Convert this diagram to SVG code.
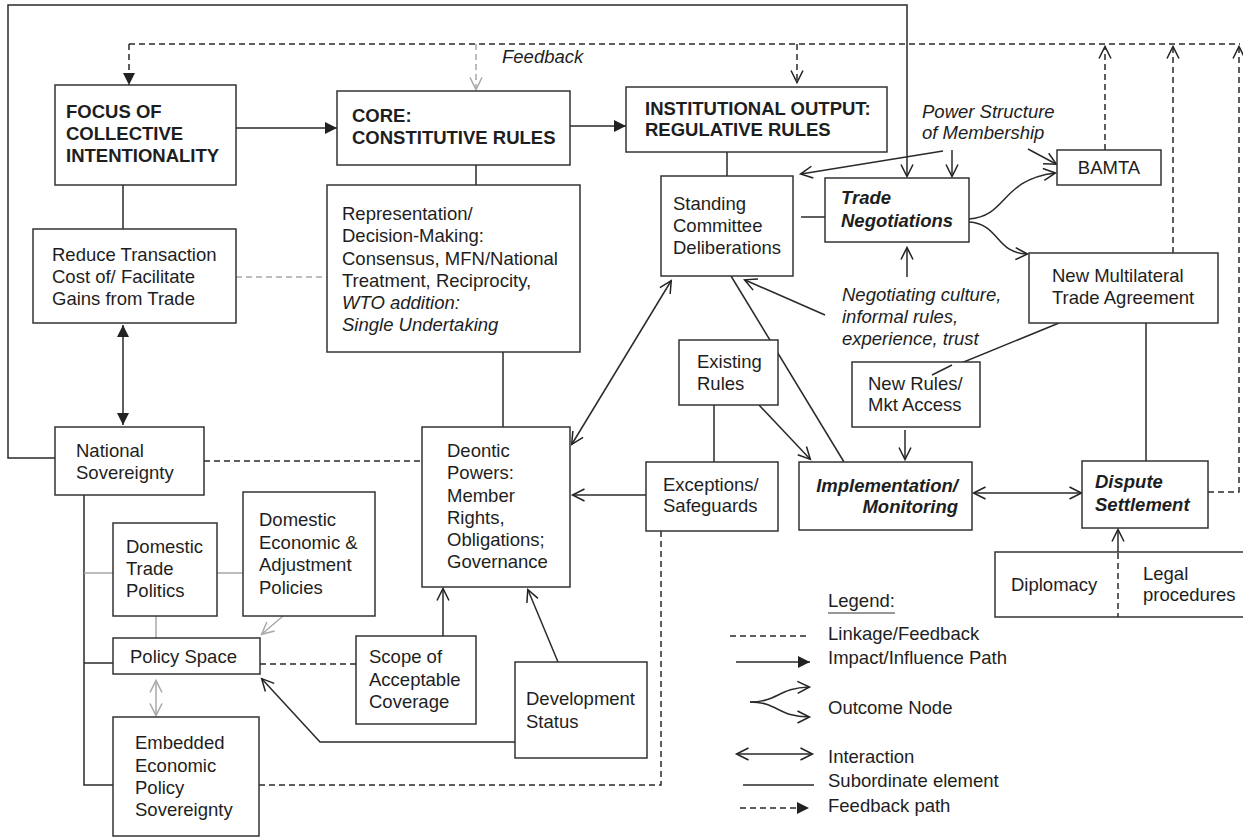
<svg xmlns="http://www.w3.org/2000/svg" width="1243" height="837" viewBox="0 0 1243 837">
  <style>
    .t { font-family: "Liberation Sans", Arial, Helvetica, sans-serif; font-size: 18.5px; fill: #1e1e1e; }
    .b { font-weight: bold; }
    .i { font-style: italic; }
    .box { fill: #fff; stroke: #333; stroke-width: 1.5; }
    .ln { fill: none; stroke: #2a2a2a; stroke-width: 1.5; }
    .gr { fill: none; stroke: #a8a8a8; stroke-width: 1.5; }
    .d { stroke-dasharray: 6 4; }
  </style>
  <defs>
    <marker id="fa" viewBox="0 0 12 12" refX="12" refY="6" markerWidth="12" markerHeight="12" markerUnits="userSpaceOnUse" orient="auto-start-reverse">
      <path d="M0,0 L12,6 L0,12 z" fill="#222"/>
    </marker>
    <marker id="oa" viewBox="0 0 12 12" refX="11.5" refY="6" markerWidth="12" markerHeight="12" markerUnits="userSpaceOnUse" orient="auto-start-reverse" overflow="visible">
      <path d="M0,0 L12,6 L0,12" fill="none" stroke="#222" stroke-width="1.5"/>
    </marker>
    <marker id="og" viewBox="0 0 12 12" refX="11.5" refY="6" markerWidth="12" markerHeight="12" markerUnits="userSpaceOnUse" orient="auto-start-reverse" overflow="visible">
      <path d="M0,0 L12,6 L0,12" fill="none" stroke="#a8a8a8" stroke-width="1.5"/>
    </marker>
  </defs>

  <g id="connectors">
    <!-- outer sovereignty loop into trade negotiations -->
    <polyline class="ln" points="55,458 8,458 8,5 907,5 907,176" marker-end="url(#oa)"/>
    <!-- top feedback bus -->
    <line class="ln d" x1="129" y1="44" x2="1240" y2="44"/>
    <line class="ln d" x1="129" y1="44" x2="129" y2="85" marker-end="url(#fa)"/>
    <line class="gr d" x1="476" y1="44" x2="476" y2="89" marker-end="url(#og)"/>
    <line class="ln d" x1="797" y1="44" x2="797" y2="82" marker-end="url(#oa)"/>
    <line class="ln d" x1="1105" y1="150" x2="1105" y2="47" marker-end="url(#oa)"/>
    <line class="ln d" x1="1173" y1="253" x2="1173" y2="47" marker-end="url(#oa)"/>
    <polyline class="ln d" points="1208,492 1239,492 1239,47" marker-end="url(#oa)"/>

    <!-- main chain -->
    <line class="ln" x1="236" y1="128" x2="337" y2="128" marker-end="url(#fa)"/>
    <line class="ln" x1="570" y1="126" x2="626" y2="126" marker-end="url(#fa)"/>
    <line class="ln" x1="123" y1="185" x2="123" y2="229"/>
    <line class="ln" x1="476" y1="165" x2="476" y2="185"/>
    <line class="ln" x1="727" y1="152" x2="727" y2="176"/>
    <line class="gr d" x1="236" y1="277" x2="327" y2="277"/>
    <line class="ln" x1="123" y1="325" x2="123" y2="425" marker-start="url(#fa)" marker-end="url(#fa)"/>
    <line class="ln" x1="503" y1="352" x2="503" y2="427"/>
    <line class="ln d" x1="204" y1="461" x2="422" y2="461"/>

    <!-- negotiation cluster -->
    <line class="ln" x1="801" y1="217" x2="825" y2="217"/>
    <line class="ln" x1="952" y1="150" x2="952" y2="176" marker-end="url(#oa)"/>
    <line class="ln" x1="943" y1="151" x2="801" y2="174" marker-end="url(#oa)"/>
    <line class="ln" x1="1028" y1="149" x2="1056" y2="164" marker-end="url(#oa)"/>
    <path class="ln" d="M969,219 C1008,216 1000,180 1055,173" marker-end="url(#oa)"/>
    <path class="ln" d="M969,222 C1000,224 995,253 1027,254" marker-end="url(#oa)"/>
    <line class="ln" x1="907" y1="277" x2="907" y2="248" marker-end="url(#oa)"/>
    <line class="ln" x1="825" y1="315" x2="745" y2="280" marker-end="url(#oa)"/>
    <line class="ln" x1="572" y1="444" x2="671" y2="281" marker-start="url(#oa)" marker-end="url(#oa)"/>
    <line class="ln" x1="731" y1="276" x2="844" y2="462"/>
    <line class="ln" x1="1146" y1="323" x2="1146" y2="461"/>
    <line class="ln" x1="1059" y1="323" x2="932" y2="375"/>
    <line class="ln" x1="905" y1="430" x2="905" y2="459" marker-end="url(#oa)"/>
    <line class="ln" x1="714" y1="405" x2="714" y2="462"/>
    <line class="ln" x1="759" y1="405" x2="810" y2="459" marker-end="url(#oa)"/>
    <line class="ln" x1="646" y1="495" x2="573" y2="495" marker-end="url(#oa)"/>
    <line class="ln" x1="974" y1="493" x2="1081" y2="493" marker-start="url(#oa)" marker-end="url(#oa)"/>
    <line class="ln" x1="1118" y1="553" x2="1118" y2="530" marker-end="url(#oa)"/>
    <line class="ln d" x1="1118" y1="553" x2="1118" y2="617"/>

    <!-- domestic cluster -->
    <polyline class="ln" points="84,495 84,785 113,785"/>
    <line class="ln" x1="84" y1="663" x2="113" y2="663"/>
    <line class="gr" x1="84" y1="573" x2="113" y2="573"/>
    <line class="gr" x1="217" y1="573" x2="243" y2="573"/>
    <line class="gr" x1="156" y1="616" x2="156" y2="638"/>
    <line class="gr" x1="283" y1="616" x2="262" y2="634" marker-end="url(#og)"/>
    <line class="gr" x1="156" y1="681" x2="156" y2="715" marker-start="url(#og)" marker-end="url(#og)"/>
    <line class="ln d" x1="260" y1="664" x2="356" y2="664"/>
    <polyline class="ln d" points="259,785 661,785 661,531"/>
    <polyline class="ln" points="515,742 320,742 262,679" marker-end="url(#oa)"/>
    <line class="ln" x1="443" y1="636" x2="443" y2="589" marker-end="url(#oa)"/>
    <line class="ln" x1="558" y1="662" x2="528" y2="590" marker-end="url(#oa)"/>
  </g>

  <g id="focus">
    <rect class="box" x="55" y="85" width="181" height="100"/>
    <text class="t b" x="66"><tspan x="66" y="118">FOCUS OF</tspan><tspan x="66" y="140">COLLECTIVE</tspan><tspan x="66" y="162">INTENTIONALITY</tspan></text>
  </g>
  <g id="core">
    <rect class="box" x="337" y="91" width="233" height="74"/>
    <text class="t b"><tspan x="352" y="122">CORE:</tspan><tspan x="352" y="144">CONSTITUTIVE RULES</tspan></text>
  </g>
  <g id="institutional">
    <rect class="box" x="626" y="87" width="261" height="65"/>
    <text class="t b"><tspan x="645" y="115">INSTITUTIONAL OUTPUT:</tspan><tspan x="645" y="136">REGULATIVE RULES</tspan></text>
  </g>
  <text class="t i" x="502" y="63">Feedback</text>
  <g id="reduce">
    <rect class="box" x="33" y="229" width="203" height="94"/>
    <text class="t"><tspan x="52" y="261">Reduce Transaction</tspan><tspan x="52" y="283">Cost of/ Facilitate</tspan><tspan x="52" y="305">Gains from Trade</tspan></text>
  </g>
  <g id="representation">
    <rect class="box" x="327" y="185" width="253" height="167"/>
    <text class="t"><tspan x="342" y="220">Representation/</tspan><tspan x="342" y="242">Decision-Making:</tspan><tspan x="342" y="265">Consensus, MFN/National</tspan><tspan x="342" y="287">Treatment, Reciprocity,</tspan></text>
    <text class="t i"><tspan x="342" y="309">WTO addition:</tspan><tspan x="342" y="331">Single Undertaking</tspan></text>
  </g>
  <g id="standing">
    <rect class="box" x="661" y="176" width="132" height="100"/>
    <text class="t"><tspan x="673" y="210">Standing</tspan><tspan x="673" y="232">Committee</tspan><tspan x="673" y="254">Deliberations</tspan></text>
  </g>
  <g id="trade-negotiations">
    <rect class="box" x="825" y="178" width="144" height="64"/>
    <text class="t b i"><tspan x="841" y="204">Trade</tspan><tspan x="841" y="227">Negotiations</tspan></text>
  </g>
  <g id="power-structure">
    <text class="t i"><tspan x="922" y="118">Power Structure</tspan><tspan x="922" y="139">of Membership</tspan></text>
  </g>
  <g id="bamta">
    <rect class="box" x="1057" y="150" width="104" height="35"/>
    <text class="t" x="1109" y="174" text-anchor="middle">BAMTA</text>
  </g>
  <g id="new-multilateral">
    <rect class="box" x="1029" y="253" width="189" height="70"/>
    <text class="t"><tspan x="1052" y="282">New Multilateral</tspan><tspan x="1052" y="304">Trade Agreement</tspan></text>
  </g>
  <g id="negotiating-culture">
    <text class="t i"><tspan x="842" y="301">Negotiating culture,</tspan><tspan x="842" y="323">informal rules,</tspan><tspan x="842" y="345">experience, trust</tspan></text>
  </g>
  <g id="existing-rules">
    <rect class="box" x="679" y="340" width="99" height="65"/>
    <text class="t"><tspan x="697" y="368">Existing</tspan><tspan x="697" y="390">Rules</tspan></text>
  </g>
  <g id="new-rules">
    <rect class="box" x="852" y="362" width="128" height="65"/>
    <text class="t"><tspan x="868" y="390">New Rules/</tspan><tspan x="868" y="411">Mkt Access</tspan></text>
  </g>
  <line class="ln" x1="952" y1="365" x2="932" y2="375"/>
  <g id="national">
    <rect class="box" x="55" y="427" width="149" height="68"/>
    <text class="t"><tspan x="76" y="457">National</tspan><tspan x="76" y="479">Sovereignty</tspan></text>
  </g>
  <g id="deontic">
    <rect class="box" x="422" y="427" width="148" height="160"/>
    <text class="t"><tspan x="447" y="457">Deontic</tspan><tspan x="447" y="479">Powers:</tspan><tspan x="447" y="502">Member</tspan><tspan x="447" y="524">Rights,</tspan><tspan x="447" y="546">Obligations;</tspan><tspan x="447" y="568">Governance</tspan></text>
  </g>
  <g id="exceptions">
    <rect class="box" x="646" y="462" width="132" height="69"/>
    <text class="t"><tspan x="663" y="491">Exceptions/</tspan><tspan x="663" y="512">Safeguards</tspan></text>
  </g>
  <g id="implementation">
    <rect class="box" x="799" y="462" width="173" height="68"/>
    <text class="t b i" text-anchor="end"><tspan x="958" y="492">Implementation/</tspan><tspan x="958" y="513">Monitoring</tspan></text>
  </g>
  <g id="dispute">
    <rect class="box" x="1082" y="461" width="126" height="67"/>
    <text class="t b i"><tspan x="1095" y="488">Dispute</tspan><tspan x="1095" y="511">Settlement</tspan></text>
  </g>
  <g id="diplomacy">
    <path d="M1245,552 L995,552 L995,617 L1245,617" fill="#fff" stroke="#333" stroke-width="1.5"/>
    <line class="ln d" x1="1118" y1="553" x2="1118" y2="617"/>
    <text class="t" x="1011" y="591">Diplomacy</text>
    <text class="t"><tspan x="1143" y="580">Legal</tspan><tspan x="1143" y="601">procedures</tspan></text>
  </g>
  <g id="domestic-trade">
    <rect class="box" x="113" y="523" width="104" height="93"/>
    <text class="t"><tspan x="126" y="553">Domestic</tspan><tspan x="126" y="575">Trade</tspan><tspan x="126" y="597">Politics</tspan></text>
  </g>
  <g id="domestic-economic">
    <rect class="box" x="243" y="492" width="132" height="124"/>
    <text class="t"><tspan x="259" y="526">Domestic</tspan><tspan x="259" y="549">Economic &amp;</tspan><tspan x="259" y="571">Adjustment</tspan><tspan x="259" y="594">Policies</tspan></text>
  </g>
  <g id="policy-space">
    <rect class="box" x="113" y="638" width="147" height="36"/>
    <text class="t" x="130" y="663">Policy Space</text>
  </g>
  <g id="embedded">
    <rect class="box" x="113" y="717" width="146" height="119"/>
    <text class="t"><tspan x="135" y="749">Embedded</tspan><tspan x="135" y="772">Economic</tspan><tspan x="135" y="794">Policy</tspan><tspan x="135" y="816">Sovereignty</tspan></text>
  </g>
  <g id="scope">
    <rect class="box" x="356" y="636" width="120" height="88"/>
    <text class="t"><tspan x="369" y="663">Scope of</tspan><tspan x="369" y="686">Acceptable</tspan><tspan x="369" y="708">Coverage</tspan></text>
  </g>
  <g id="development">
    <rect class="box" x="515" y="662" width="132" height="96"/>
    <text class="t"><tspan x="526" y="705">Development</tspan><tspan x="526" y="728">Status</tspan></text>
  </g>

  <g id="legend">
    <text class="t" x="828" y="607">Legend:</text>
    <line x1="828" y1="613" x2="895" y2="613" stroke="#333" stroke-width="1.2"/>
    <line class="ln d" x1="730" y1="636" x2="808" y2="636"/>
    <text class="t" x="828" y="640">Linkage/Feedback</text>
    <line class="ln" x1="736" y1="662" x2="810" y2="662" marker-end="url(#fa)"/>
    <text class="t" x="828" y="664">Impact/Influence Path</text>
    <path class="ln" d="M750,702 C778,702 778,688 809,687" marker-end="url(#oa)"/>
    <path class="ln" d="M750,702 C778,702 778,717 809,717" marker-end="url(#oa)"/>
    <text class="t" x="828" y="714">Outcome Node</text>
    <line class="ln" x1="737" y1="754" x2="812" y2="754" marker-start="url(#oa)" marker-end="url(#oa)"/>
    <text class="t" x="828" y="763">Interaction</text>
    <line class="ln" x1="743" y1="785" x2="814" y2="785"/>
    <text class="t" x="828" y="787">Subordinate element</text>
    <line class="ln d" x1="740" y1="808" x2="809" y2="808" marker-end="url(#fa)"/>
    <text class="t" x="828" y="812">Feedback path</text>
  </g>
</svg>
